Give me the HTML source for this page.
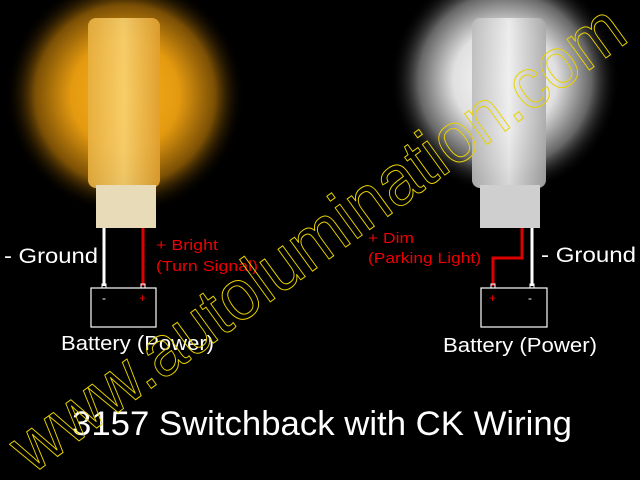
<!DOCTYPE html>
<html><head><style>body{margin:0;background:#000}svg{display:block}</style></head><body>
<svg width="640" height="480" xmlns="http://www.w3.org/2000/svg" font-family="Liberation Sans, sans-serif">
<defs>
<radialGradient id="og" cx="0.5" cy="0.5" r="0.5">
<stop offset="0" stop-color="#f7b21c"/><stop offset="0.45" stop-color="#e49a10"/><stop offset="0.75" stop-color="#7a4f05"/><stop offset="1" stop-color="#000" stop-opacity="0"/></radialGradient>
<radialGradient id="wg" cx="0.5" cy="0.5" r="0.5">
<stop offset="0" stop-color="#ffffff"/><stop offset="0.45" stop-color="#e0e0e0"/><stop offset="0.75" stop-color="#666"/><stop offset="1" stop-color="#000" stop-opacity="0"/></radialGradient>
<linearGradient id="ob" x1="0" x2="1"><stop offset="0" stop-color="#e8b040"/><stop offset="0.5" stop-color="#f8d070"/><stop offset="1" stop-color="#e0a030"/></linearGradient>
<linearGradient id="wb" x1="0" x2="1"><stop offset="0" stop-color="#bbb"/><stop offset="0.5" stop-color="#eee"/><stop offset="1" stop-color="#aaa"/></linearGradient>
</defs>
<rect width="640" height="480" fill="#000"/>
<circle cx="125" cy="95" r="120" fill="url(#og)"/>
<circle cx="505" cy="80" r="115" fill="url(#wg)"/>
<rect x="88" y="18" width="72" height="170" rx="8" fill="url(#ob)" opacity="0.9"/>
<rect x="96" y="185" width="60" height="43" fill="#e8dcb8"/>
<rect x="472" y="18" width="74" height="170" rx="8" fill="url(#wb)" opacity="0.9"/>
<rect x="480" y="185" width="60" height="43" fill="#cfcfcf"/>
<line x1="104" y1="228" x2="104" y2="286" stroke="#fff" stroke-width="3"/>
<line x1="143" y1="228" x2="143" y2="286" stroke="#d00" stroke-width="3"/>
<rect x="102" y="284" width="4" height="4" fill="none" stroke="#fff"/>
<rect x="141" y="284" width="4" height="4" fill="none" stroke="#fff"/>
<rect x="91" y="288" width="65" height="39" fill="none" stroke="#fff" stroke-width="1.2"/>
<text x="102" y="302" fill="#fff" font-size="12">-</text>
<text x="139" y="302" fill="#e00" font-size="12">+</text>
<text x="4" y="263" fill="#fff" font-size="21" textLength="94" lengthAdjust="spacingAndGlyphs">- Ground</text>
<text x="156" y="250" fill="#e00" font-size="15" textLength="62" lengthAdjust="spacingAndGlyphs">+ Bright</text>
<text x="156" y="271" fill="#e00" font-size="15" textLength="102" lengthAdjust="spacingAndGlyphs">(Turn Signal)</text>
<text x="61" y="350" fill="#fff" font-size="20" textLength="153" lengthAdjust="spacingAndGlyphs">Battery (Power)</text>
<polyline points="522,228 522,258 493,258 493,286" fill="none" stroke="#d00" stroke-width="3"/>
<line x1="532" y1="228" x2="532" y2="286" stroke="#fff" stroke-width="3"/>
<rect x="491" y="284" width="4" height="4" fill="none" stroke="#fff"/>
<rect x="530" y="284" width="4" height="4" fill="none" stroke="#fff"/>
<rect x="481" y="288" width="66" height="39" fill="none" stroke="#fff" stroke-width="1.2"/>
<text x="489" y="302" fill="#e00" font-size="12">+</text>
<text x="528" y="302" fill="#fff" font-size="12">-</text>
<text x="541" y="262" fill="#fff" font-size="21" textLength="95" lengthAdjust="spacingAndGlyphs">- Ground</text>
<text x="368" y="243" fill="#e00" font-size="15" textLength="46" lengthAdjust="spacingAndGlyphs">+ Dim</text>
<text x="368" y="263" fill="#e00" font-size="15" textLength="113" lengthAdjust="spacingAndGlyphs">(Parking Light)</text>
<text x="443" y="352" fill="#fff" font-size="20" textLength="154" lengthAdjust="spacingAndGlyphs">Battery (Power)</text>
<text x="72" y="435" fill="#fff" font-size="34" textLength="500" lengthAdjust="spacingAndGlyphs">3157 Switchback with CK Wiring</text>
<text transform="translate(32,475) rotate(-36)" fill="none" stroke="#e8d200" stroke-width="1" font-size="72" textLength="740" lengthAdjust="spacingAndGlyphs">www.autolumination.com</text>
</svg>
</body></html>
